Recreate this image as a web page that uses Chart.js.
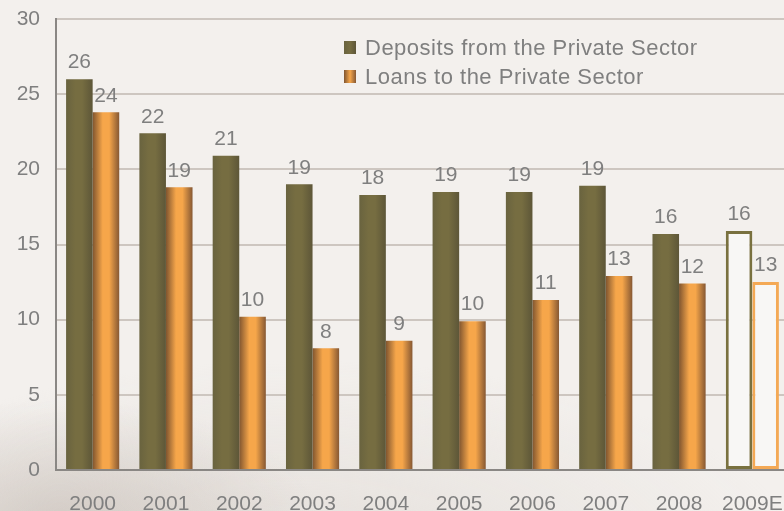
<!DOCTYPE html>
<html>
<head>
<meta charset="utf-8">
<script src="https://cdn.jsdelivr.net/npm/chart.js@4"></script>
<style>
  html, body { margin: 0; padding: 0; overflow: hidden; }
  body {
    width: 784px; height: 511px;
    background:
      radial-gradient(ellipse 260px 120px at 60px 520px, rgba(190,180,172,0.55), rgba(190,180,172,0) 100%),
      radial-gradient(ellipse 500px 200px at 300px 560px, rgba(215,208,202,0.5), rgba(215,208,202,0) 100%),
      #f3f0ed;
  }
  #wrap { position: absolute; left: 0; top: 0; width: 800px; height: 511px; }
</style>
</head>
<body>
<div id="wrap"><canvas id="barChart" width="800" height="511"></canvas></div>
<script>
// Chart data
const years = ["2000", "2001", "2002", "2003", "2004", "2005", "2006", "2007", "2008", "2009E"];
const deposits = [26.0, 22.4, 20.9, 19.0, 18.3, 18.5, 18.5, 18.9, 15.7, 15.9];
const loans = [23.8, 18.8, 10.2, 8.1, 8.6, 9.9, 11.3, 12.9, 12.4, 12.5];
const seriesNames = ["Deposits from the Private Sector", "Loans to the Private Sector"];
const yMin = 0;
const yMax = 30;
const yStep = 5;

const FONT = "'Liberation Sans', Arial, sans-serif";
const TEXT_GREY = "#7f7f7f";
const CAT_PCT = 0.725;

// gradient stops for the two series (olive, orange)
const shades = [
  ["#69633f", "#766d41", "#5d5638"],
  ["#80552f", "#f6a64a", "#865833"],
];
const outlineColors = ["#79713f", "#f4a955"];

function isEstimate(i) {
  return years[i].endsWith("E");
}

// fill each bar with a horizontal gradient, estimates stay hollow
function barFill(context) {
  const i = context.dataIndex;
  const ds = context.datasetIndex;
  if (i === undefined) return shades[ds][1];
  if (isEstimate(i)) return "#f8f7f5";
  const xs = context.chart.scales.x;
  if (!xs || !xs.width) return shades[ds][1];
  const cw = xs.width / years.length;
  const bw = (cw * CAT_PCT) / 2;
  const left = xs.getPixelForValue(i) - bw + ds * bw;
  const g = context.chart.ctx.createLinearGradient(left, 0, left + bw, 0);
  if (ds === 0) {
    g.addColorStop(0, shades[0][0]);
    g.addColorStop(0.35, shades[0][1]);
    g.addColorStop(0.6, shades[0][1]);
    g.addColorStop(1, shades[0][2]);
  } else {
    g.addColorStop(0, shades[1][0]);
    g.addColorStop(0.38, shades[1][1]);
    g.addColorStop(0.62, shades[1][1]);
    g.addColorStop(1, shades[1][2]);
  }
  return g;
}

// value labels above each bar
const valueLabels = {
  id: "valueLabels",
  afterDatasetsDraw(chart) {
    const { ctx } = chart;
    ctx.save();
    ctx.font = "21px " + FONT;
    ctx.fillStyle = TEXT_GREY;
    ctx.textAlign = "center";
    ctx.textBaseline = "bottom";
    chart.data.datasets.forEach((dataset, d) => {
      const meta = chart.getDatasetMeta(d);
      meta.data.forEach((bar, i) => {
        ctx.fillText(String(Math.round(dataset.data[i])), bar.x, bar.y - 6);
      });
    });
    ctx.restore();
  },
};

// two-row legend inside the plot
const boxLegend = {
  id: "boxLegend",
  afterDraw(chart) {
    const { ctx } = chart;
    const x0 = 344;
    const rows = [47.5, 76.5];
    ctx.save();
    ctx.font = "22px " + FONT;
    ctx.letterSpacing = "0.5px";
    ctx.textBaseline = "middle";
    ctx.textAlign = "left";
    chart.data.datasets.forEach((dataset, d) => {
      const y = rows[d];
      const g = ctx.createLinearGradient(x0, 0, x0 + 12, 0);
      g.addColorStop(0, shades[d][0]);
      g.addColorStop(0.5, shades[d][1]);
      g.addColorStop(1, shades[d][2]);
      ctx.fillStyle = g;
      ctx.fillRect(x0, y - 6.5, 12, 13);
      ctx.fillStyle = TEXT_GREY;
      ctx.fillText(dataset.label, x0 + 21, y + 1);
    });
    ctx.restore();
  },
};

const barData = {
  labels: years,
  datasets: [
    { label: seriesNames[0], data: deposits },
    { label: seriesNames[1], data: loans },
  ].map((ds, d) => ({
    ...ds,
    backgroundColor: barFill,
    borderColor: outlineColors[d],
    borderWidth: (c) => (c.dataIndex !== undefined && isEstimate(c.dataIndex) ? 3 : 0),
    borderSkipped: (c) => (c.dataIndex !== undefined && isEstimate(c.dataIndex) ? false : "start"),
    categoryPercentage: CAT_PCT,
    barPercentage: 1,
  })),
};

const barChart = new Chart(document.getElementById("barChart"), {
  type: "bar",
  data: barData,
  options: {
    responsive: false,
    animation: false,
    layout: { padding: { top: 19, right: 11, left: 0, bottom: 0 } },
    plugins: {
      legend: { display: false },
      tooltip: { enabled: false },
    },
    scales: {
      x: {
        grid: { display: false, drawTicks: false },
        border: { display: true, color: "#8a8784", width: 2 },
        ticks: {
          color: TEXT_GREY,
          font: { size: 21, family: FONT },
          padding: 22,
          maxRotation: 0,
          autoSkip: false,
        },
        afterFit(scale) {
          scale.height = 41;
          scale.paddingLeft = 0;
          scale.paddingRight = 0;
        },
      },
      y: {
        min: yMin,
        max: yMax,
        grid: { color: "#cdc6c0", lineWidth: 2, drawTicks: false },
        border: { display: true, color: "#8a8784", width: 2 },
        ticks: {
          stepSize: yStep,
          color: TEXT_GREY,
          font: { size: 21, family: FONT },
          padding: 16,
        },
        afterFit(scale) {
          scale.width = 56;
          scale.paddingTop = 0;
          scale.paddingBottom = 0;
        },
      },
    },
  },
  plugins: [valueLabels, boxLegend],
});
</script>
</body>
</html>
